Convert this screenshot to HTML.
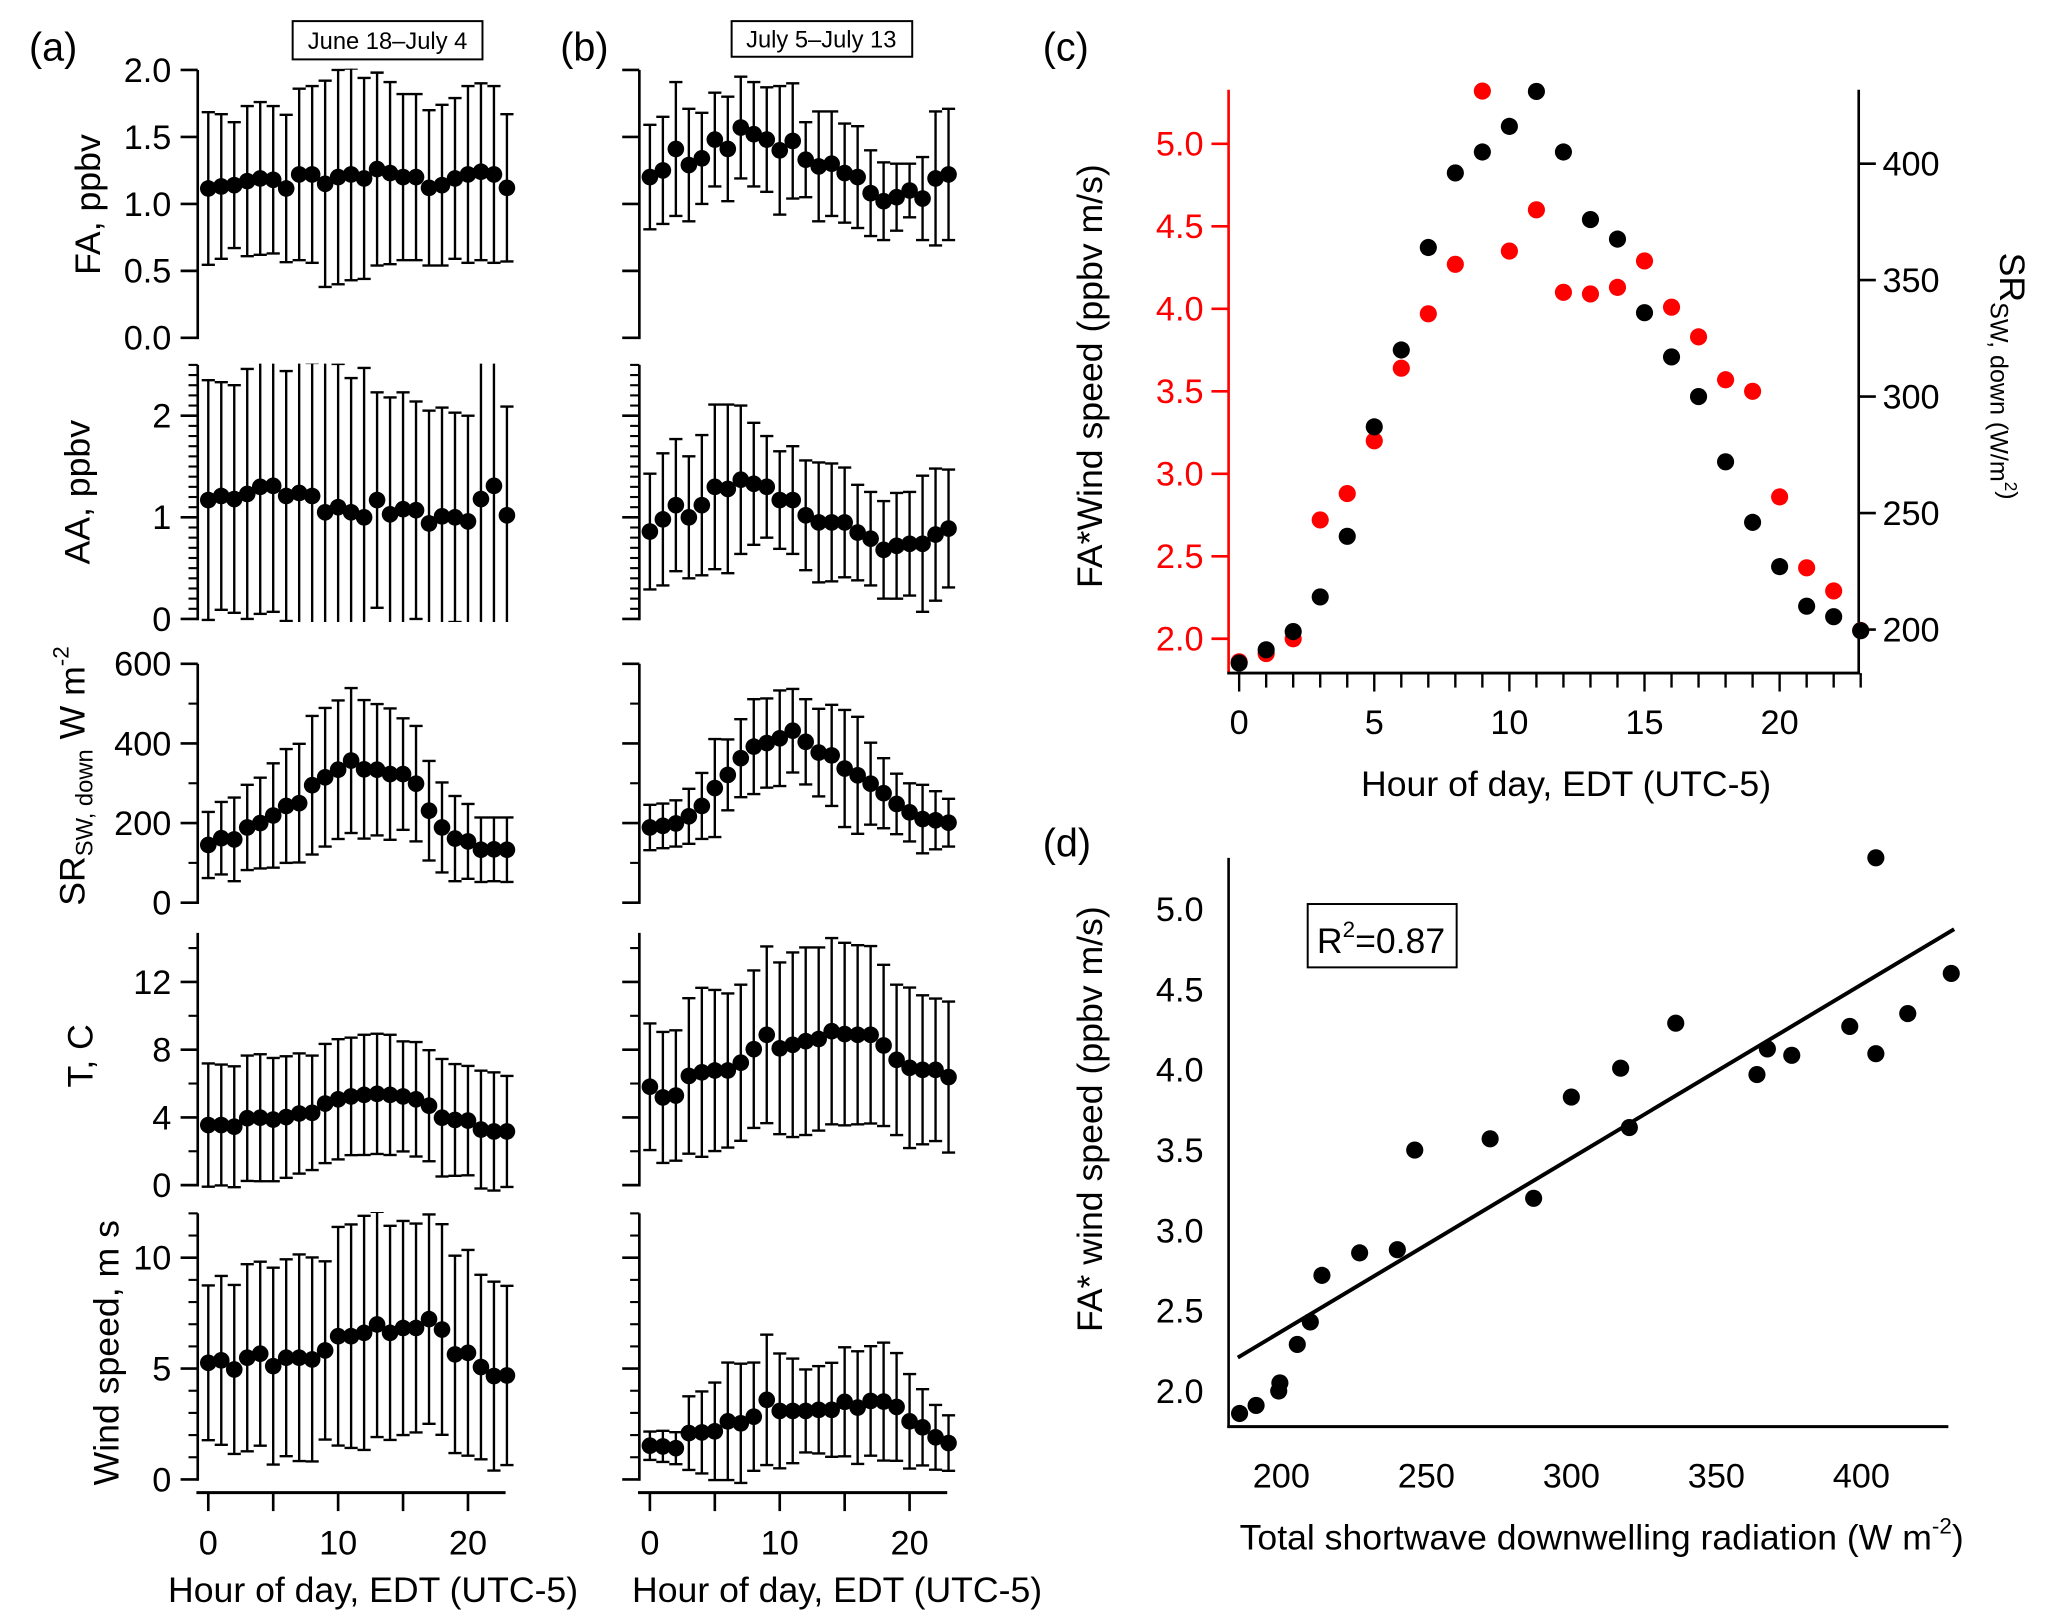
<!DOCTYPE html>
<html><head><meta charset="utf-8">
<style>
html,body{margin:0;padding:0;background:#fff;}
svg{display:block;}
text{font-family:"Liberation Sans",Arial,sans-serif;fill:#000;}
.tk{font-size:26px;}
.ti{font-size:27px;}
</style></head>
<body>
<svg id="fig" xmlns="http://www.w3.org/2000/svg" width="2067" height="1618" viewBox="0 0 1568 1226" preserveAspectRatio="none">
<rect x="0" y="0" width="1568" height="1226" fill="#fff"/>
<text x="22" y="46" font-size="30">(a)</text>
<text x="425" y="46" font-size="30">(b)</text>
<text x="791" y="46" font-size="30">(c)</text>
<text x="791" y="649" font-size="30">(d)</text>
<g><rect x="222" y="16" width="144" height="29" fill="none" stroke="#000" stroke-width="1.5"/><text x="294" y="37" font-size="18" text-anchor="middle">June 18–July 4</text></g>
<g><rect x="555" y="16" width="137" height="27" fill="none" stroke="#000" stroke-width="1.5"/><text x="623" y="36" font-size="18" text-anchor="middle">July 5–July 13</text></g>

<text class="ti" transform="translate(76,155) rotate(-90)" text-anchor="middle">FA, ppbv</text>
<text class="ti" transform="translate(68,373) rotate(-90)" text-anchor="middle">AA, ppbv</text>
<text class="ti" transform="translate(64,588) rotate(-90)" text-anchor="middle">SR<tspan font-size="18" dy="6">SW, down</tspan><tspan dy="-6"> W m</tspan><tspan font-size="17" dy="-12">-2</tspan></text>
<text class="ti" transform="translate(70,800) rotate(-90)" text-anchor="middle">T, C</text>
<text class="ti" transform="translate(90,1025) rotate(-90)" text-anchor="middle">Wind speed, m s</text>
<text class="ti" x="283" y="1214" text-anchor="middle">Hour of day, EDT (UTC-5)</text>
<text class="ti" x="635" y="1214" text-anchor="middle">Hour of day, EDT (UTC-5)</text>

<text class="ti" transform="translate(836,285) rotate(-90)" text-anchor="middle">FA*Wind speed (ppbv m/s)</text>
<text class="ti" transform="translate(1517,285) rotate(90)" text-anchor="middle">SR<tspan font-size="19" dy="7">SW, down (W/m</tspan><tspan font-size="13" dy="-11">2</tspan><tspan font-size="19" dy="4">)</tspan></text>
<text class="ti" x="1188" y="603" text-anchor="middle">Hour of day, EDT (UTC-5)</text>
<text class="ti" transform="translate(836,848) rotate(-90)" text-anchor="middle">FA* wind speed (ppbv m/s)</text>
<text class="ti" x="1215" y="1174" text-anchor="middle">Total shortwave downwelling radiation (W m<tspan font-size="17" dy="-12">-2</tspan><tspan dy="12">)</tspan></text>
<g><rect x="992" y="685" width="113" height="48" fill="none" stroke="#000" stroke-width="1.5"/><text x="999" y="722" font-size="27">R<tspan font-size="17" dy="-12">2</tspan><tspan dy="12">=0.87</tspan></text></g>
<g id="plots"></g>
</svg>
<script>
// ---- panel (a) June 18-July 4 ----
const hours = [0,1,2,3,4,5,6,7,8,9,10,11,12,13,14,15,16,17,18,19,20,21,22,23];
const faA = [1.115,1.13,1.14,1.17,1.19,1.18,1.115,1.22,1.22,1.15,1.2,1.22,1.19,1.26,1.23,1.2,1.2,1.12,1.14,1.19,1.22,1.24,1.22,1.12];
const faAErr = [0.57,0.54,0.47,0.56,0.57,0.55,0.55,0.64,0.66,0.77,0.80,0.79,0.75,0.72,0.68,0.62,0.62,0.58,0.6,0.6,0.66,0.66,0.66,0.55];
const aaA = [1.17,1.21,1.18,1.23,1.30,1.31,1.21,1.24,1.21,1.05,1.10,1.05,1.0,1.17,1.03,1.08,1.07,0.94,1.01,1.0,0.96,1.18,1.31,1.02];
const aaAErr = [1.18,1.12,1.12,1.23,1.25,1.24,1.23,1.30,1.31,1.48,1.41,1.32,1.47,1.06,1.15,1.15,1.07,1.11,1.07,1.03,1.04,1.4,1.6,1.07];
const srA = [145,162,159,189,200,219,243,250,295,315,334,357,335,334,323,323,299,231,189,161,154,133,134,133];
const srAErr = [83,91,105,107,114,131,143,149,174,174,174,182,174,165,165,140,145,125,113,107,94,81,80,81];
const tA = [3.55,3.55,3.45,3.95,3.98,3.87,4.02,4.23,4.27,4.82,5.07,5.24,5.33,5.39,5.33,5.24,5.07,4.69,3.98,3.85,3.81,3.28,3.17,3.17];
const tAErr = [3.64,3.57,3.57,3.70,3.75,3.64,3.59,3.55,3.38,3.52,3.55,3.47,3.55,3.55,3.55,3.25,3.38,3.28,3.47,3.30,3.23,3.48,3.49,3.28];
const wsA = [5.26,5.37,4.96,5.49,5.67,5.11,5.49,5.49,5.41,5.82,6.46,6.46,6.61,6.99,6.61,6.83,6.83,7.23,6.76,5.64,5.71,5.07,4.66,4.69];
const wsAErr = [3.49,3.81,3.81,4.22,4.15,4.44,4.44,4.66,4.60,4.02,4.93,5.04,5.28,5.08,4.83,4.83,4.71,4.72,4.75,4.45,4.64,4.16,4.26,4.04];
// ---- panel (b) July 5-July 13 ----
const faB = [1.2,1.25,1.41,1.29,1.34,1.48,1.41,1.57,1.52,1.48,1.40,1.47,1.33,1.28,1.30,1.23,1.2,1.08,1.02,1.05,1.10,1.04,1.19,1.22];
const faBErr = [0.39,0.40,0.50,0.42,0.34,0.35,0.39,0.38,0.39,0.39,0.48,0.43,0.28,0.41,0.39,0.37,0.38,0.32,0.29,0.25,0.20,0.31,0.50,0.49];
const aaB = [0.86,0.98,1.12,1.0,1.12,1.30,1.28,1.37,1.33,1.30,1.17,1.17,1.02,0.95,0.95,0.95,0.85,0.79,0.68,0.72,0.74,0.74,0.83,0.89];
const aaBErr = [0.57,0.65,0.65,0.60,0.69,0.81,0.83,0.73,0.60,0.50,0.48,0.53,0.54,0.59,0.58,0.54,0.47,0.46,0.48,0.52,0.51,0.67,0.65,0.58];
const srB = [189,193,199,217,243,288,321,363,392,401,413,432,404,377,370,337,320,299,275,248,227,210,207,201];
const srBErr = [57,56,58,69,83,123,89,98,119,112,120,105,107,110,127,147,147,103,88,76,73,86,73,60];
const tB = [5.81,5.18,5.29,6.45,6.66,6.77,6.77,7.23,8.03,8.88,8.08,8.29,8.50,8.63,9.09,8.92,8.88,8.88,8.25,7.40,6.93,6.81,6.81,6.38];
const tBErr = [3.74,3.87,3.85,4.59,4.99,4.76,4.55,4.61,4.65,5.22,5.07,5.45,5.54,5.41,5.50,5.39,5.29,5.24,4.76,4.44,4.74,4.40,4.21,4.46];
const wsB = [1.52,1.49,1.41,2.09,2.12,2.17,2.62,2.53,2.83,3.59,3.09,3.09,3.09,3.14,3.14,3.50,3.24,3.54,3.51,3.27,2.62,2.35,1.90,1.64];
const wsBErr = [0.64,0.70,0.72,1.66,1.85,2.20,2.65,2.69,2.44,2.94,2.59,2.36,1.87,1.97,2.12,2.46,2.54,2.47,2.66,2.43,2.13,1.72,1.46,1.25];
// ---- panel (c)/(d) ----
const faWs = [1.86,1.91,2.0,2.72,2.88,3.20,3.64,3.97,4.27,5.32,4.35,4.60,4.10,4.09,4.13,4.29,4.01,3.83,3.57,3.50,2.86,2.43,2.29,2.05];
const srSW = [185.6,191.3,199.1,214,240,287,320,364,396,405,416,431,405,376,367.6,336,317,300,272,246,227,210,205.5,199.5];
const fitSlope = 0.0108;
const fitIntercept = 0.21;
const cLeftTicks = [2.0,2.5,3.0,3.5,4.0,4.5,5.0];
const cRightTicks = [200,250,300,350,400];
const cXTicks = [0,5,10,15,20];
const dXTicks = [200,250,300,350,400];
const dYTicks = [2.0,2.5,3.0,3.5,4.0,4.5,5.0];

const NS = 'http://www.w3.org/2000/svg';
const root = document.getElementById('plots');
function mk(tag, attrs, parent) {
  const e = document.createElementNS(NS, tag);
  for (const k in attrs) e.setAttribute(k, attrs[k]);
  (parent || root).appendChild(e);
  return e;
}
function line(x1,y1,x2,y2,col,w,p){ return mk('line',{x1:x1,y1:y1,x2:x2,y2:y2,stroke:col||'#000','stroke-width':w||2},p); }

const rows = [
  {key:'fa', zero:256, ppu:101.5, top:2.0, bottom:-1, majors:[0,0.5,1,1.5,2], fmt:v=>v.toFixed(1), minors:[], a:faA, ae:faAErr, b:faB, be:faBErr},
  {key:'aa', zero:469, ppu:77, top:2.5, bottom:-0.03, majors:[0,1,2], fmt:v=>String(v), minors:Array.from({length:26},(_, i)=>i/10), a:aaA, ae:aaAErr, b:aaB, be:aaBErr},
  {key:'sr', zero:684, ppu:0.3017, top:600, bottom:-100, majors:[0,200,400,600], fmt:v=>String(v), minors:[100,300,500], a:srA, ae:srAErr, b:srB, be:srBErr},
  {key:'t', zero:898, ppu:12.83, top:14.9, bottom:-2, majors:[0,4,8,12], fmt:v=>String(v), minors:[2,6,10,14], a:tA, ae:tAErr, b:tB, be:tBErr},
  {key:'wind', zero:1121, ppu:16.8, top:12, bottom:-2, majors:[0,5,10], fmt:v=>String(v), minors:[1,2,3,4,6,7,8,9,11,12], a:wsA, ae:wsAErr, b:wsB, be:wsBErr}
];
const panels = [{id:'a', spine:150, x0:158, label:true},{id:'b', spine:485, x0:493, label:false}];
const hourPx = 9.85;

rows.forEach((r, ri) => {
  const y = v => r.zero - v*r.ppu;
  panels.forEach(p => {
    const g = mk('g', {});
    
    
    const x = h => p.x0 + h*hourPx;
    const sp = line(p.spine, y(r.top), p.spine, r.zero+1, '#000', 2, g);
    
    
    r.majors.forEach(v => {
      line(p.spine-13, y(v), p.spine, y(v), '#000', 2, g);
      if (p.label) {
        const t = mk('text', {x:p.spine-20, y:y(v)+9, 'text-anchor':'end', class:'tk'}, g);
        t.textContent = r.fmt(v);
        
        
      }
    });
    r.minors.forEach(v => { line(p.spine-7, y(v), p.spine, y(v), '#000', 1.6, g); });
    const cid = 'clip-' + r.key + p.id;
    const cp = mk('clipPath', {id:cid}, g);
    mk('rect', {x:p.spine+2, y:y(r.top)-1, width:260, height:y(r.bottom)-y(r.top)+1}, cp);
    const eg = mk('g', {'clip-path':'url(#'+cid+')'}, g);
    const vals = r[p.id], errs = r[p.id+'e'];
    hours.forEach((h, i) => {
      const cx = x(h), hi = y(vals[i]+errs[i]), lo = y(vals[i]-errs[i]);
      const bar = line(cx, hi, cx, lo, '#000', 1.8, eg);
      
      
      line(cx-5, hi, cx+5, hi, '#000', 1.8, eg);
      line(cx-5, lo, cx+5, lo, '#000', 1.8, eg);
    });
    hours.forEach((h, i) => {
      const c = mk('circle', {cx:x(h), cy:y(vals[i]), r:6.3, fill:'#000'}, g);
      
      
    });
    if (ri === rows.length-1) {
      const ax = line(p.spine-1, 1131, x(23)-1, 1131, '#000', 2.2, g);
      
      
      [0,5,10,15,20].forEach(h => {
        line(x(h), 1131, x(h), 1145, '#000', 2, g);
        if (h % 10 === 0) {
          const t = mk('text', {x:x(h), y:1178, 'text-anchor':'middle', class:'tk'}, g);
          t.textContent = String(h);
          
          
        }
      });
    }
  });
});

// ---- panel (c) ----
(function(){
  const g = mk('g', {});
  
  
  const xc = h => 940 + h*20.5;
  const yl = v => 484 - (v-2)*125;
  const yr = v => 477 - (v-200)*1.765;
  const RED = '#ff0000';
  const la = line(932, 68, 932, 511, RED, 2, g);
  
  
  const ra = line(1410, 68, 1410, 511, '#000', 2, g);
  
  
  const xa = line(931, 510, 1411, 510, '#000', 2.2, g);
  
  
  cLeftTicks.forEach(v => {
    line(919, yl(v), 932, yl(v), RED, 2, g);
    const t = mk('text', {x:913, y:yl(v)+9, 'text-anchor':'end', class:'tk', style:'fill:#ff0000'}, g);
    t.textContent = v.toFixed(1);
    
    
  });
  cRightTicks.forEach(v => {
    line(1410, yr(v), 1423, yr(v), '#000', 2, g);
    const t = mk('text', {x:1428, y:yr(v)+9, 'text-anchor':'start', class:'tk'}, g);
    t.textContent = String(v);
    
    
  });
  hours.forEach(h => { line(xc(h), 510, xc(h), (h%5===0)?524:521, '#000', 1.8, g); });
  cXTicks.forEach(h => {
    const t = mk('text', {x:xc(h), y:556, 'text-anchor':'middle', class:'tk'}, g);
    t.textContent = String(h);
    
    
  });
  hours.forEach((h, i) => {
    const c = mk('circle', {cx:xc(h), cy:yl(faWs[i]), r:6.5, fill:RED}, g);
    
    
  });
  hours.forEach((h, i) => {
    const c = mk('circle', {cx:xc(h), cy:yr(srSW[i]), r:6.5, fill:'#000'}, g);
    
    
  });
})();

// ---- panel (d) ----
(function(){
  const g = mk('g', {});
  
  
  const xd = v => 972 + (v-200)*2.2;
  const yd = v => 1054 - (v-2)*121.7;
  const ya = line(932, 650, 932, 1082, '#000', 2, g);
  
  
  const xa = line(931, 1081, 1478, 1081, '#000', 2.2, g);
  
  
  dYTicks.forEach(v => {
    const t = mk('text', {x:913, y:yd(v)+9, 'text-anchor':'end', class:'tk'}, g);
    t.textContent = v.toFixed(1);
    
    
  });
  dXTicks.forEach(v => {
    const t = mk('text', {x:xd(v), y:1127, 'text-anchor':'middle', class:'tk'}, g);
    t.textContent = String(v);
    
    
  });
  const x1 = 185, x2 = 432;
  const fl = line(xd(x1), yd(fitIntercept+fitSlope*x1), xd(x2), yd(fitIntercept+fitSlope*x2), '#000', 3, g);
  
  
  srSW.forEach((s, i) => {
    const c = mk('circle', {cx:xd(s), cy:yd(faWs[i]), r:6.5, fill:'#000'}, g);
    
    
  });
})();
</script>
</body></html>
